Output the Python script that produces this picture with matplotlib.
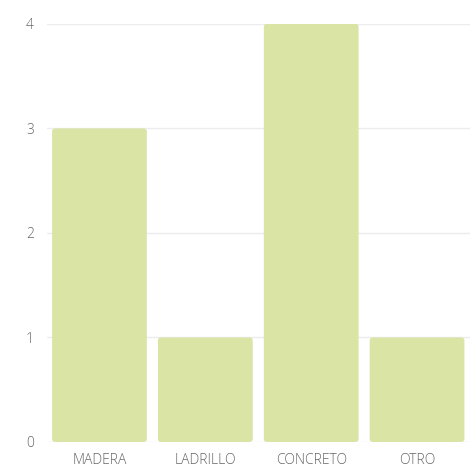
import matplotlib.pyplot as plt
from matplotlib.patches import FancyBboxPatch

categories = ["MADERA", "LADRILLO", "CONCRETO", "OTRO"]
values = [3, 1, 4, 1]
yticks = [0, 1, 2, 3, 4]

BAR_COLOR = "#d9e4a5"

plt.rcParams["font.family"] = ["Open Sans", "DejaVu Sans"]
plt.rcParams["font.weight"] = "light"

fig = plt.figure(figsize=(4.70, 4.69), dpi=100)
ax = fig.add_axes([0.099, 0.0576, 0.901, 0.8914])

bars = ax.bar(range(len(categories)), values, width=0.895, color=BAR_COLOR)
# swap the plain rectangles for slightly rounded ones
for b in bars:
    x, y = b.get_x(), b.get_y()
    w, h = b.get_width(), b.get_height()
    b.set_visible(False)
    ax.add_patch(FancyBboxPatch((x, y), w, h,
                                boxstyle="round,pad=0,rounding_size=0.03",
                                mutation_aspect=1.0, facecolor=BAR_COLOR,
                                edgecolor="none", zorder=2))

ax.set_xlim(-0.5, len(categories) - 0.5)
ax.set_ylim(0, 4)
ax.set_yticks(yticks)
ax.set_xticks(range(len(categories)))
ax.set_xticklabels(categories)
ax.grid(axis="y", color="#ececec", linewidth=1)
ax.set_axisbelow(True)
for s in ax.spines.values():
    s.set_visible(False)
ax.tick_params(length=0, colors="#666666", labelsize=10)
ax.tick_params(axis="y", pad=9)
ax.tick_params(axis="x", pad=8)

fig.savefig("out.png", dpi=100)
